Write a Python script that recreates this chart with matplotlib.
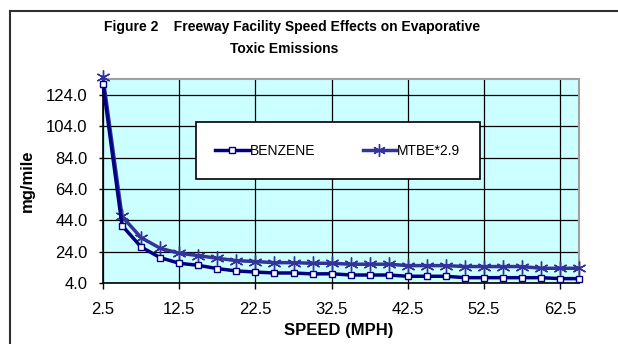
import matplotlib
matplotlib.use("Agg")
import matplotlib.pyplot as plt
from matplotlib.patches import Rectangle
from matplotlib.lines import Line2D

plt.rcParams['font.family'] = ['Liberation Sans', 'DejaVu Sans']

speed = [2.5, 5, 7.5, 10, 12.5, 15, 17.5, 20, 22.5, 25, 27.5, 30, 32.5,
         35, 37.5, 40, 42.5, 45, 47.5, 50, 52.5, 55, 57.5, 60, 62.5, 65]
benzene = [131.0, 40.7, 27.0, 20.2, 16.6, 15.3, 13.2, 11.7, 11.0, 10.4, 10.4, 9.8, 9.9,
           9.1, 9.1, 9.1, 8.3, 8.3, 8.3, 7.4, 7.4, 7.4, 7.4, 7.4, 6.8, 6.8]
mtbe = [135.5, 46.5, 33.0, 26.2, 23.0, 21.5, 19.8, 18.3, 17.7, 17.0, 17.0, 16.6, 16.6,
        16.0, 16.0, 16.0, 15.1, 15.1, 15.1, 14.5, 14.5, 14.5, 14.5, 13.4, 13.4, 13.4]
x_ticks = [2.5, 12.5, 22.5, 32.5, 42.5, 52.5, 62.5]
y_ticks = [4.0, 24.0, 44.0, 64.0, 84.0, 104.0, 124.0]
series_labels = ["BENZENE", "MTBE*2.9"]
title_lines = ["Figure 2    Freeway Facility Speed Effects on Evaporative", "Toxic Emissions"]

W, H = 618, 344
fig = plt.figure(figsize=(W / 100, H / 100), dpi=100)
fig.patch.set_facecolor('white')

L, R, T, B = 103, 579.3, 79, 283
ax = fig.add_axes([L / W, 1 - B / H, (R - L) / W, (B - T) / H])
ax.set_facecolor('#CCFFFF')

c_benz = '#000080'
c_mtbe = '#333399'

ax.plot(speed, mtbe, color=c_mtbe, lw=2.5, marker=(6, 2, 0), ms=10, mew=1.0,
        mec=c_mtbe, clip_on=False, zorder=4)
ax.plot(speed, benzene, color=c_benz, lw=2.5, marker='s', ms=4.5, mew=1.0,
        mfc='white', mec=c_benz, clip_on=False, zorder=5)

ax.set_xlim(2.5, 65)
ax.set_ylim(4, 134.3)
ax.set_xticks(x_ticks)
ax.set_xticklabels([f"{v:.1f}" for v in x_ticks])
ax.set_yticks(y_ticks)
ax.set_yticklabels([f"{v:.1f}" for v in y_ticks])
ax.grid(True, color='black', lw=0.9)
ax.set_axisbelow(True)
ax.tick_params(axis='both', direction='out', width=1, labelsize=12)
ax.tick_params(axis='x', length=4, pad=10)
ax.tick_params(axis='y', length=3, pad=8)
for s in ['left', 'bottom']:
    ax.spines[s].set_color('black')
    ax.spines[s].set_linewidth(1.2)
for s in ['top', 'right']:
    ax.spines[s].set_color('#a0a0a0')
    ax.spines[s].set_linewidth(1.5)

# legend box
bx0, bx1, by0, by1 = 195.7, 480, 122.3, 179.3
ax.add_patch(Rectangle(((bx0 - L) / (R - L), (B - by1) / (B - T)),
                       (bx1 - bx0) / (R - L), (by1 - by0) / (B - T),
                       transform=ax.transAxes, facecolor='white', edgecolor='black',
                       lw=1.2, zorder=6))
h1 = Line2D([], [], color=c_benz, lw=2.5, marker='s', ms=4.5, mfc='white', mec=c_benz)
h2 = Line2D([], [], color=c_mtbe, lw=2.5, marker=(6, 2, 0), ms=9, mec=c_mtbe)
leg = ax.legend([h1, h2], series_labels, loc='center', ncol=2, frameon=False,
                bbox_to_anchor=(((bx0 + bx1) / 2 - L) / (R - L), (B - (by0 + by1) / 2) / (B - T)),
                fontsize=10, handlelength=2.4, handletextpad=0.1, columnspacing=3.4,
                markerscale=1.0)
leg.set_zorder(7)

fig.text(292 / W, 1 - 27 / H, title_lines[0], ha='center', va='center', fontsize=10, fontweight='bold')
fig.text(284 / W, 1 - 49 / H, title_lines[1], ha='center', va='center', fontsize=10, fontweight='bold')
fig.text(27 / W, 1 - 181 / H, "mg/mile", rotation=90, ha='center', va='center', fontsize=12, fontweight='bold')
fig.text(339 / W, 1 - 331 / H, "SPEED (MPH)", ha='center', va='center', fontsize=12, fontweight='bold')

# chart frame (left and top edges visible)
fig.add_artist(Line2D([10 / W, 10 / W], [0, 1 - 11 / H], transform=fig.transFigure, color='#303030', lw=1.5))
fig.add_artist(Line2D([10 / W, 1], [1 - 11 / H, 1 - 11 / H], transform=fig.transFigure, color='#303030', lw=1.5))

fig.savefig("out.png", dpi=100)
